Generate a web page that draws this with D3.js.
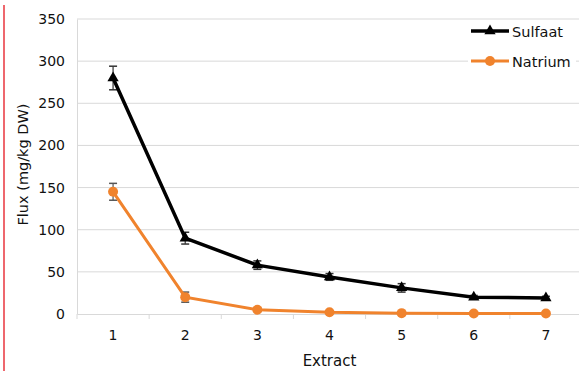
<!DOCTYPE html>
<html>
<head>
<meta charset="utf-8">
<script src="https://cdn.jsdelivr.net/npm/d3@7"></script>
<style>
  body { margin: 0; background: #fff; }
  text { font-family: "DejaVu Sans", sans-serif; fill: #111; }
</style>
</head>
<body>
<div id="chart"></div>
<script>
// data
const extracts = ["1", "2", "3", "4", "5", "6", "7"];
const sulfaat = [280, 90, 58, 44, 31, 20, 19];
const sulfaatErr = [14, 7, 5, 4, 5, 2, 2];
const natrium = [145, 20, 5, 2, 1, 0.5, 0.5];
const natriumErr = [10, 6, 2, 1, 1, 0.5, 0.5];
const yTicks = [0, 50, 100, 150, 200, 250, 300, 350];

const W = 579, H = 371;
const margin = { top: 19, right: -3, bottom: 57, left: 77 };
const width = W - margin.left - margin.right;
const height = H - margin.top - margin.bottom;

const svg = d3.select("#chart")
    .append("svg")
    .attr("width", W)
    .attr("height", H);

// red margin line on the left
svg.append("line")
    .attr("x1", 4).attr("x2", 4)
    .attr("y1", 5).attr("y2", H)
    .attr("stroke", "#e8343c")
    .attr("stroke-width", 1.5);

const g = svg.append("g")
    .attr("transform", `translate(${margin.left},${margin.top})`);

const x = d3.scaleBand()
    .domain(extracts)
    .range([0, width]);

const y = d3.scaleLinear()
    .domain([0, 350])
    .range([height, 0]);

// gridlines
g.selectAll(".grid")
    .data(yTicks.filter(d => d > 0))
    .enter()
    .append("line")
    .attr("x1", 0).attr("x2", width)
    .attr("y1", d => y(d)).attr("y2", d => y(d))
    .attr("stroke", "#d9d9d9")
    .attr("stroke-width", 1);

// y axis
const yAxis = g.append("g")
    .call(d3.axisLeft(y).tickValues(yTicks).tickSize(0).tickPadding(12));
yAxis.select(".domain").attr("stroke", "#d9d9d9");
yAxis.selectAll("text").style("font-size", "14px");

// x axis
const xAxis = g.append("g")
    .attr("transform", `translate(0,${height})`)
    .call(d3.axisBottom(x).tickSize(0).tickPadding(16));
xAxis.select(".domain").attr("stroke", "#d9d9d9");
xAxis.selectAll("text").style("font-size", "14px");

// tick marks between categories
g.selectAll(".xtick")
    .data(extracts)
    .enter()
    .append("line")
    .attr("x1", d => x(d)).attr("x2", d => x(d))
    .attr("y1", height).attr("y2", height + 5)
    .attr("stroke", "#d9d9d9");

// axis titles
svg.append("text")
    .attr("transform", `translate(28,${margin.top + height / 2 - 2}) rotate(-90)`)
    .style("text-anchor", "middle")
    .style("font-size", "14.5px")
    .text("Flux (mg/kg DW)");

svg.append("text")
    .attr("x", margin.left + x("4") + x.bandwidth() / 2)
    .attr("y", 366)
    .style("text-anchor", "middle")
    .style("font-size", "15px")
    .text("Extract");

const cx = (d, i) => x(extracts[i]) + x.bandwidth() / 2;

const line = d3.line()
    .x((d, i) => cx(d, i))
    .y(d => y(d));

function drawErrors(vals, errs, color) {
    const eg = g.append("g");
    vals.forEach((v, i) => {
        const xc = cx(v, i);
        const e = errs[i];
        eg.append("line")
            .attr("x1", xc).attr("x2", xc)
            .attr("y1", y(v + e)).attr("y2", y(v - e))
            .attr("stroke", color).attr("stroke-width", 1.2);
        [v + e, v - e].forEach(t => {
            eg.append("line")
                .attr("x1", xc - 4).attr("x2", xc + 4)
                .attr("y1", y(t)).attr("y2", y(t))
                .attr("stroke", color).attr("stroke-width", 1.5);
        });
    });
}

drawErrors(sulfaat, sulfaatErr, "#333");
drawErrors(natrium, natriumErr, "#555");

// Natrium series
g.append("path")
    .datum(natrium)
    .attr("fill", "none")
    .attr("stroke", "#f0832d")
    .attr("stroke-width", 3)
    .attr("d", line);

g.selectAll(".nat")
    .data(natrium)
    .enter()
    .append("circle")
    .attr("cx", (d, i) => cx(d, i))
    .attr("cy", d => y(d))
    .attr("r", 5)
    .attr("fill", "#f0832d");

// Sulfaat series
g.append("path")
    .datum(sulfaat)
    .attr("fill", "none")
    .attr("stroke", "#000")
    .attr("stroke-width", 3.5)
    .attr("d", line);

const tri = d3.symbol().type(d3.symbolTriangle).size(55);
g.selectAll(".sul")
    .data(sulfaat)
    .enter()
    .append("path")
    .attr("transform", (d, i) => `translate(${cx(d, i)},${y(d)})`)
    .attr("d", tri)
    .attr("fill", "#000");

// legend
const legend = svg.append("g");
const items = [
    { name: "Sulfaat", color: "#000", yy: 31 },
    { name: "Natrium", color: "#f0832d", yy: 61 }
];
legend.append("rect")
    .attr("x", 468).attr("y", 20)
    .attr("width", 108).attr("height", 52)
    .attr("fill", "#fff");
items.forEach(it => {
    legend.append("line")
        .attr("x1", 471).attr("x2", 509)
        .attr("y1", it.yy).attr("y2", it.yy)
        .attr("stroke", it.color)
        .attr("stroke-width", it.name === "Sulfaat" ? 3.5 : 3);
    if (it.name === "Sulfaat") {
        legend.append("path")
            .attr("transform", `translate(490,${it.yy})`)
            .attr("d", tri)
            .attr("fill", "#000");
    } else {
        legend.append("circle")
            .attr("cx", 490).attr("cy", it.yy).attr("r", 5)
            .attr("fill", it.color);
    }
    legend.append("text")
        .attr("x", 512).attr("y", it.yy + 6)
        .style("font-size", "14.5px")
        .text(it.name);
});
</script>
</body>
</html>
